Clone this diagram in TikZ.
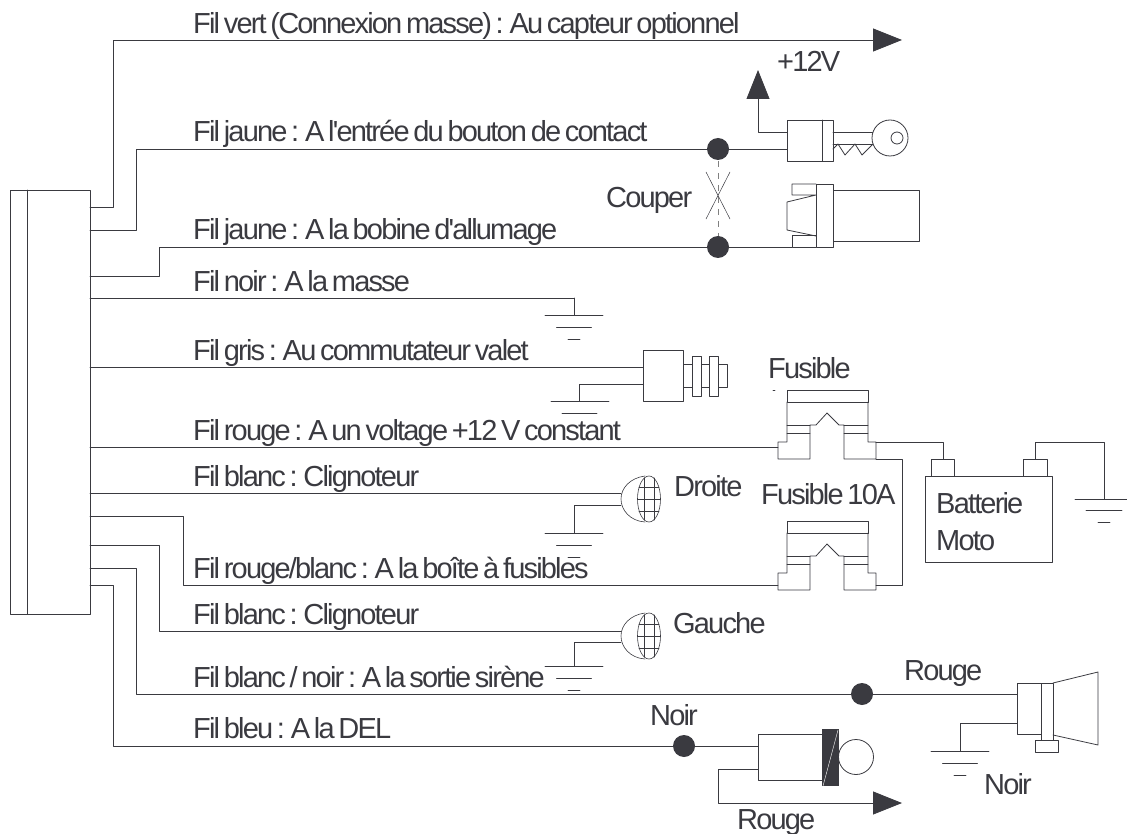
\documentclass[tikz,border=0pt]{standalone}
\usepackage{fontspec}
\setmainfont[Ligatures=TeXOff,LetterSpace=-6.3,WordSpace=0.6]{Liberation Sans}
\usetikzlibrary{arrows.meta}
\definecolor{encre}{HTML}{3A3A40}
\tikzset{
	fil/.style={draw=encre,line width=0.8pt},
	fleche/.style={-{Triangle[length=29pt,width=23pt,fill=encre]}},
	etiq/.style={anchor=base west,inner sep=0pt,text=encre,font=\fontsize{29}{29}\selectfont},
	point/.style={circle,fill=encre,inner sep=0pt,minimum size=22pt}
}
% masse : trois traits sous le point donne
\def\masse(#1,#2){
	\draw[fil] (#1-29,#2)--(#1+29,#2) (#1-17.5,#2+12)--(#1+17.5,#2+12) (#1-6,#2+24)--(#1+6,#2+24);
}
\def\fusible{
	\draw[fil] (787,390) rectangle (868,402);
	\draw[fil] (787,402)--(787,442)--(778,442)--(778,459)--(810,459)--(810,425)--(816,425)--(827,413)--(839,425)--(844,425)--(844,459)--(876,459)--(876,442)--(868,442)--(868,402);
	\draw[fil] (787,425)--(810,425) (787,433)--(810,433) (844,425)--(868,425) (844,433)--(868,433);
}
\def\clignoteur{
	\draw[fil,line width=0.6pt] (645,476) .. controls (630,478) and (621,488) .. (621,499) .. controls (621,510) and (630,521) .. (645,522);
	\draw[fil,line width=0.6pt] (649,499) ellipse [x radius=11.5pt,y radius=23pt];
	\draw[fil,line width=0.6pt] (644,478)--(644,520) (654,478)--(654,520) (639,487)--(659,487) (637.5,499)--(660.5,499) (639,511)--(659,511);
}
\begin{document}
\begin{tikzpicture}[x=1pt,y=-1pt,line join=round,line cap=round]
	\useasboundingbox (0,0) rectangle (1127,834);
	\draw[fil] (10,190) rectangle (90,614) (27,190)--(27,614);
	% sorties du boitier
	\foreach \i/\y in {1/207,2/230,3/276,4/298,5/367,6/447,7/493,8/516,9/545,10/568,11/585}{
		\path (90,\y) coordinate (P\i);
	}
	% coudes
	\foreach \i/\x/\y in {1/113/40,2/136/149,3/159/247,8/183/585,9/159/631,10/136/694,11/113/746}{
		\path (\x,\y) coordinate (B\i);
	}
	% arrivees
	\foreach \i/\x/\y in {1/873/40,2/787/149,3/792/247,4/574/298,5/643/367,6/778/447,7/621/493,8/778/585,9/621/631,10/1017/694,11/758/746}{
		\path (\x,\y) coordinate (E\i);
	}
	\foreach \i in {2,3,8,9,10,11}{
		\draw[fil] (P\i)-|(B\i)--(E\i);
	}
	\draw[fil,fleche] (P1)-|(B1)--(902,40);
	\foreach \i in {4,5,6,7}{
		\draw[fil] (P\i)--(E\i);
	}
	% textes des fils
	\foreach \n/\y/\t in {lVert/33.5/{Fil vert (Connexion masse) : Au capteur optionnel},
		lJauneA/142/{Fil jaune : A l'entrée du bouton de contact},
		lJauneB/240/{Fil jaune : A la bobine d'allumage},
		lNoir/291/{Fil noir : A la masse},
		lGris/360/{Fil gris : Au commutateur valet},
		lRouge/440/{Fil rouge : A un voltage +12 V constant},
		lBlancA/486/{Fil blanc : Clignoteur},
		lRougeBlanc/578/{Fil rouge/blanc : A la boîte à fusibles},
		lBlancB/624/{Fil blanc : Clignoteur},
		lBlancNoir/687/{Fil blanc / noir : A la sortie sirène},
		lBleu/738/{Fil bleu : A la DEL}}{
		\node[etiq] (\n) at (193,\y) {\t};
	}
	% contact a cle
	\path (718,149) coordinate (C1) (718,247) coordinate (C2);
	\draw[fil,draw=gray,dash pattern=on 6pt off 6pt,line cap=butt] (C1)--(C2);
	\draw[fil,line width=0.5pt] (706,172)--(730,219) (730,172)--(706,219);
	\node[point] (d1) at (C1) {};
	\node[point] (d2) at (C2) {};
	\draw[fil] (787,120) rectangle (833,161) (822,120)--(822,161);
	\path (787,132) coordinate (K);
	\draw[fil,fleche] (K)-|(758,70);
	\draw[fil] (833,132)--(873,132) (833,144)--(873,144);
	\draw[fil] (833,149)--(838,144)--(845,155)--(855,144)--(862,155)--(873,144);
	\draw[fil,fill=white] (890,138) circle[radius=18pt];
	\draw[fil] (897,138) circle[radius=6pt];
	% bobine
	\draw[fil] (816,184) rectangle (833,247) (833,190) rectangle (919,241);
	\draw[fil] (816,184)--(792,184)--(792,195)--(816,195)--(787,202)--(787,230)--(816,236);
	\draw[fil] (816,235)--(792,235)--(792,247)--(816,247);
	% masse fil noir
	\masse(574,315)
	\draw[fil] (E4)--(574,315);
	% commutateur valet
	\draw[fil] (643,350) rectangle (683,401) (683,364) rectangle (727,387);
	\draw[fil,fill=white] (692,356) rectangle (701,396) (709,356) rectangle (718,396);
	\draw[fil] (643,384)-|(579,401);
	\draw[fil] (551,401)--(609,401) (562,413)--(597,413);
	% fusibles
	\fusible
	\begin{scope}[shift={(0,131)}]
		\fusible
	\end{scope}
	\draw[fil] (773,390)--(775,390);
	% batterie
	\draw[fil] (925,476) rectangle (1052,562) (931,459) rectangle (954,476) (1023,459) rectangle (1047,476);
	\draw[fil] (876,442)-|(943,459);
	\draw[fil] (876,459)-|(902,585)--(876,585);
	\draw[fil] (1035,459)|-(1104,442)--(1104,499);
	\draw[fil] (1075,499)--(1127,499) (1086,510)--(1122,510) (1098,522)--(1110,522);
	% clignoteurs
	\clignoteur
	\draw[fil] (621,505)-|(574,533);
	\masse(574,533)
	\begin{scope}[shift={(0,137)}]
		\clignoteur
		\draw[fil] (621,505)-|(574,529);
		\masse(574,529)
	\end{scope}
	% sirene
	\node[point] (d3) at (862,694) {};
	\draw[fil] (1017,683) rectangle (1041,734) (1041,683) rectangle (1053,740) (1035,740) rectangle (1058,752);
	\draw[fil] (1053,683)--(1098,672)--(1098,745)--(1053,735);
	\draw[fil] (1017,723)-|(960,751);
	\masse(960,751)
	% del
	\node[point] (d4) at (684,746) {};
	\draw[fil] (758,734) rectangle (822,780);
	\fill[encre] (822,729) rectangle (839,786);
	\draw[white,line width=0.4pt] (838,730)--(823,786);
	\draw[fil] (856,757) circle[radius=17.5pt];
	\draw[fil,fleche] (758,769)-|(718,803)--(902,803);
	% autres textes
	\foreach \n/\x/\y/\t in {lDouze/777/72/+12V,lCouper/606/208/Couper,lFus/768/378/Fusible,lDroite/674/496/Droite,
		lFusDix/761/504/Fusible 10A,lGauche/673/633/Gauche,lRougeH/904/680/Rouge,lNoirA/650/725/Noir,
		lNoirB/984/794/Noir,lRougeB/737/829/Rouge}{
		\node[etiq] (\n) at (\x,\y) {\t};
	}
	\node[etiq] (lBatt) at (936,513) {Batterie};
	\node[etiq] (lMoto) at (936,550) {Moto};
\end{tikzpicture}
\end{document}
